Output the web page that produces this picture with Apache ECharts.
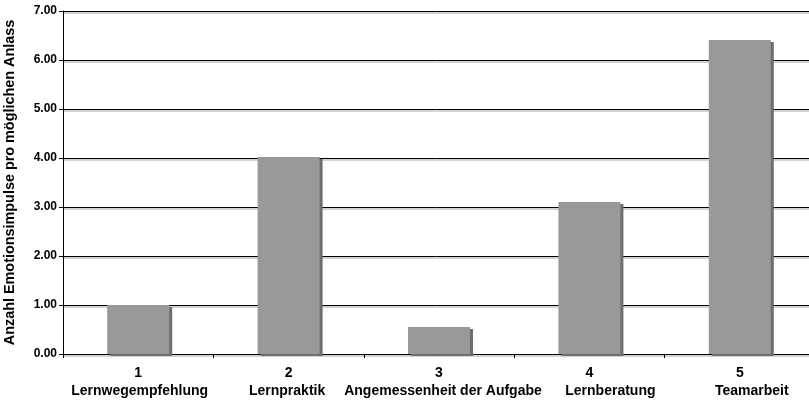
<!DOCTYPE html>
<html>
<head>
<meta charset="utf-8">
<script src="https://cdn.jsdelivr.net/npm/echarts@6/dist/echarts.min.js"></script>
<style>html,body{margin:0;padding:0;background:#fff}#c{width:809px;height:400px}</style>
</head>
<body>
<div id="c"></div>
<script>
const categoryNumbers = ['1', '2', '3', '4', '5'];
const categoryNames = ['Lernwegempfehlung', 'Lernpraktik', 'Angemessenheit der Aufgabe', 'Lernberatung', 'Teamarbeit'];
const values = [1.00, 4.02, 0.55, 3.10, 6.41];
const yAxisTitle = 'Anzahl Emotionsimpulse pro möglichen Anlass';

const categories = categoryNumbers.map((n, i) => n + '\n' + categoryNames[i]);
// horizontal nudges of the name line (px) as laid out in the original
const nameShift = [1.5, -1.5, 4, 21, 12];

const chart = echarts.init(document.getElementById('c'));
const font = 'Liberation Sans, Arial, sans-serif';
const rich = {};
nameShift.forEach((d, i) => {
  rich['n' + i] = {
    fontFamily: font, fontWeight: 'bold', fontSize: 14, color: '#000', lineHeight: 18,
    padding: d >= 0 ? [0, 0, 0, 2 * d] : [0, -2 * d, 0, 0]
  };
});
rich.num = { fontFamily: font, fontWeight: 'bold', fontSize: 14, color: '#000', lineHeight: 18 };

chart.setOption({
  animation: false,
  grid: { left: 63, top: 11, width: 752, height: 343, containLabel: false, outerBoundsMode: 'none' },
  xAxis: {
    type: 'category',
    data: categories,
    axisLine: { lineStyle: { color: '#000', width: 1 } },
    axisTick: { show: true, alignWithLabel: false, length: 4, lineStyle: { color: '#000' } },
    axisLabel: {
      color: '#000', fontFamily: font, fontWeight: 'bold', fontSize: 14,
      lineHeight: 18, margin: 10, interval: 0, hideOverlap: false,
      formatter: (v, idx) => {
        const parts = v.split('\n');
        return '{num|' + parts[0] + '}\n{n' + idx + '|' + parts[1] + '}';
      },
      rich: rich
    }
  },
  yAxis: {
    type: 'value',
    min: 0, max: 7, interval: 1,
    name: yAxisTitle,
    nameLocation: 'middle',
    nameGap: 46,
    nameTextStyle: { color: '#000', fontFamily: font, fontWeight: 'bold', fontSize: 14.4 },
    axisLine: { show: true, lineStyle: { color: '#000', width: 1 } },
    axisTick: { show: true, length: 4, lineStyle: { color: '#000' } },
    axisLabel: {
      color: '#000', fontFamily: font, fontWeight: 'bold', fontSize: 12, margin: 6,
      formatter: v => v.toFixed(2)
    },
    splitLine: { show: true, lineStyle: { color: '#000', width: 1, shadowColor: 'rgba(0,0,0,0.35)', shadowOffsetY: 1.5 } }
  },
  series: [{
    type: 'bar',
    data: values,
    barWidth: 62,
    itemStyle: { color: '#999999', shadowColor: '#6e6e6e', shadowOffsetX: 3, shadowOffsetY: 2, shadowBlur: 0 }
  }]
});
</script>
</body>
</html>
